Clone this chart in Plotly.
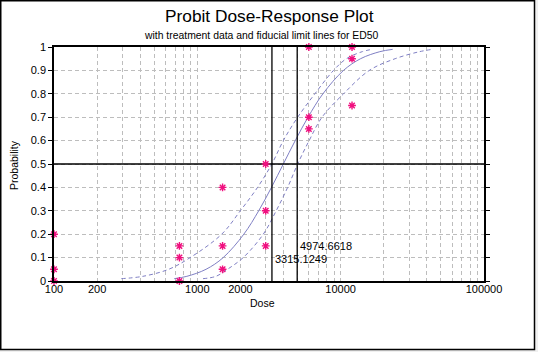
import plotly.graph_objects as go
import math

# ---- data ----
dose_pts = [100, 100, 100, 750, 750, 750, 1500, 1500, 1500,
            3000, 3000, 3000, 6000, 6000, 6000, 12000, 12000, 12000]
prob_pts = [0.0, 0.05, 0.2, 0.0, 0.1, 0.15, 0.05, 0.15, 0.4,
            0.15, 0.3, 0.5, 0.65, 0.7, 1.0, 0.75, 0.95, 1.0]

curve_p = [0.01, 0.02, 0.05, 0.1, 0.2, 0.3, 0.4, 0.5, 0.6, 0.7, 0.8, 0.9, 0.95, 0.98, 0.99]
fit_dose = [690, 845, 1150, 1515, 2110, 2680, 3290, 3980, 4820, 5920, 7520, 10470, 13770, 18750, 23070]
upper_dose = [295, 417, 631, 891, 1479, 1995, 2630, 3311, 3981, 5012, 6607, 8913, 10965, 14125, 16596]
lower_dose = [1096, 1349, 1622, 2089, 2884, 3548, 4266, 5012, 6026, 7413, 10471, 15849, 23988, 35481, 43652]

ed50_limits = [3315.1249, 4974.6618]
limit_labels = ["3315.1249", "4974.6618"]
limit_label_y = [0.093, 0.15]

x_tick_major = [100, 200, 1000, 2000, 10000, 100000]
x_grid_vals = [m * 10 ** e for e in (2, 3, 4) for m in range(1, 10)] + [100000]
x_tick_text = [str(v) if v in x_tick_major else "" for v in x_grid_vals]

W, H = 538, 352
ML, MR, MT, MB = 54, 54, 47, 71
PW, PH = W - ML - MR, H - MT - MB

curve_color = "#7f7fc4"
pt_color = "#f0107f"
grid_color = "#bdbdbd"
font_family = "Liberation Sans, Arial, sans-serif"

fig = go.Figure()

fig.add_trace(go.Scatter(x=upper_dose, y=curve_p, mode="lines", line_shape="spline",
                         line=dict(color=curve_color, width=1, dash="4px,3px"), hoverinfo="skip"))
fig.add_trace(go.Scatter(x=fit_dose, y=curve_p, mode="lines", line_shape="spline",
                         line=dict(color=curve_color, width=1), hoverinfo="skip"))
fig.add_trace(go.Scatter(x=lower_dose, y=curve_p, mode="lines", line_shape="spline",
                         line=dict(color=curve_color, width=1, dash="4px,3px"), hoverinfo="skip"))

# reference lines (ED50 fiducial limits and p = 0.5)
for xv in ed50_limits:
    fig.add_trace(go.Scatter(x=[xv, xv], y=[0, 1], mode="lines",
                             line=dict(color="black", width=1.3), hoverinfo="skip"))
fig.add_trace(go.Scatter(x=[100, 100000], y=[0.5, 0.5], mode="lines",
                         line=dict(color="black", width=1.3), hoverinfo="skip"))

fig.add_trace(go.Scatter(x=dose_pts, y=prob_pts, mode="markers",
                         marker=dict(symbol="asterisk", size=6.5,
                                     line=dict(color=pt_color, width=1.4), color=pt_color),
                         cliponaxis=False, hoverinfo="skip"))

annotations = []
for xv, lab, yv in zip(ed50_limits, limit_labels, limit_label_y):
    annotations.append(dict(x=math.log10(xv), y=yv, xref="x", yref="y", text=lab,
                            showarrow=False, xanchor="left", yanchor="middle", xshift=1,
                            font=dict(size=11, color="black", family=font_family)))

def px_to_paper(px, py):
    return (px - ML) / PW, (H - MB - py) / PH

tx, ty = px_to_paper(269, 16)
annotations.append(dict(x=tx, y=ty, xref="paper", yref="paper", text="Probit Dose-Response Plot",
                        showarrow=False, xanchor="center", yanchor="middle",
                        font=dict(size=17.3, color="black", family=font_family)))
sx, sy = px_to_paper(261, 36)
annotations.append(dict(x=sx, y=sy, xref="paper", yref="paper",
                        text="with treatment data and fiducial limit lines for ED50",
                        showarrow=False, xanchor="center", yanchor="middle",
                        font=dict(size=10.4, color="black", family=font_family)))
dx, dy = px_to_paper(262, 303)
annotations.append(dict(x=dx, y=dy, xref="paper", yref="paper", text="Dose",
                        showarrow=False, xanchor="center", yanchor="middle",
                        font=dict(size=10.5, color="black", family=font_family)))
px_, py_ = px_to_paper(14, 165)
annotations.append(dict(x=px_, y=py_, xref="paper", yref="paper", text="Probability",
                        showarrow=False, xanchor="center", yanchor="middle", textangle=-90,
                        font=dict(size=10.5, color="black", family=font_family)))

x0, y1 = px_to_paper(0.75, 0.75)
x1, y0 = px_to_paper(534.5, 349.5)

fig.update_layout(
    width=W, height=H,
    margin=dict(l=ML, r=MR, t=MT, b=MB, pad=0),
    paper_bgcolor="#f0f0f0",
    plot_bgcolor="white",
    showlegend=False,
    annotations=annotations,
    shapes=[dict(type="rect", xref="paper", yref="paper", x0=x0, x1=x1, y0=y0, y1=y1,
                 fillcolor="white", line=dict(color="black", width=1.5), layer="below")],
    font=dict(family=font_family, size=11, color="black"),
)

fig.update_xaxes(type="log", range=[2, 5], tickmode="array", tickvals=x_grid_vals,
                 ticktext=x_tick_text, showgrid=True, gridcolor=grid_color, griddash="4px,3px",
                 gridwidth=1, showline=True, linecolor="black", linewidth=1.5, mirror=True,
                 ticks="", zeroline=False, ticklabelstandoff=-3,
                 tickfont=dict(size=11, color="black"))
fig.update_yaxes(range=[0, 1], tickmode="array",
                 tickvals=[i / 10 for i in range(11)],
                 ticktext=["0", "0.1", "0.2", "0.3", "0.4", "0.5", "0.6", "0.7", "0.8", "0.9", "1"],
                 showgrid=True, gridcolor=grid_color, griddash="4px,3px", gridwidth=1,
                 showline=True, linecolor="black", linewidth=1.5, mirror="ticks",
                 ticks="outside", ticklen=4, tickcolor="black", zeroline=False,
                 tickfont=dict(size=11, color="black"))

fig.write_html("out.html")
